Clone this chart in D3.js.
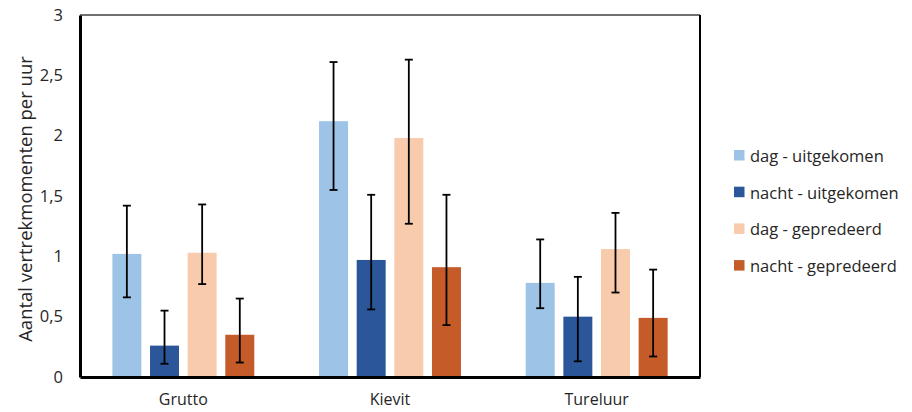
<!DOCTYPE html>
<html>
<head>
<meta charset="utf-8">
<script src="https://cdn.jsdelivr.net/npm/d3@7"></script>
<style>
  html, body { margin: 0; padding: 0; background: #fff; }
  svg { display: block; }
  text { font-family: "Open Sans", "Noto Sans", sans-serif; fill: #262626; }
</style>
</head>
<body>
<svg id="chart" width="912" height="412"></svg>
<script>
// Departure moments per hour, by species, time of day and nest outcome
const categories = ["Grutto", "Kievit", "Tureluur"];
const seriesNames = ["dag - uitgekomen", "nacht - uitgekomen", "dag - gepredeerd", "nacht - gepredeerd"];
const seriesColors = ["#9DC3E6", "#2B5699", "#F8CBAD", "#C55B28"];

// mean per series, one value per category
const dagUitgekomen   = [1.02, 2.12, 0.78];
const nachtUitgekomen = [0.26, 0.97, 0.50];
const dagGepredeerd   = [1.03, 1.98, 1.06];
const nachtGepredeerd = [0.35, 0.91, 0.49];

// lower / upper ends of the error bars
const dagUitgekomenLow    = [0.66, 1.55, 0.57];
const dagUitgekomenHigh   = [1.42, 2.61, 1.14];
const nachtUitgekomenLow  = [0.11, 0.56, 0.13];
const nachtUitgekomenHigh = [0.55, 1.51, 0.83];
const dagGepredeerdLow    = [0.77, 1.27, 0.70];
const dagGepredeerdHigh   = [1.43, 2.63, 1.36];
const nachtGepredeerdLow  = [0.12, 0.43, 0.17];
const nachtGepredeerdHigh = [0.65, 1.51, 0.89];

const yTicks = [0, 0.5, 1, 1.5, 2, 2.5, 3];
const yLabel = "Aantal vertrekmomenten per uur";

const values = [dagUitgekomen, nachtUitgekomen, dagGepredeerd, nachtGepredeerd];
const lows   = [dagUitgekomenLow, nachtUitgekomenLow, dagGepredeerdLow, nachtGepredeerdLow];
const highs  = [dagUitgekomenHigh, nachtUitgekomenHigh, dagGepredeerdHigh, nachtGepredeerdHigh];

const rows = [];
categories.forEach((c, ci) => {
  seriesNames.forEach((s, si) => {
    rows.push({ cat: c, series: s, value: values[si][ci], low: lows[si][ci], high: highs[si][ci], color: seriesColors[si] });
  });
});

const svg = d3.select("#chart");
const plot = { left: 80, right: 700, top: 15, bottom: 377 };

const x0 = d3.scaleBand().domain(categories).range([plot.left, plot.right]).padding(0);
const x1 = d3.scaleBand().domain(seriesNames).range([0, x0.bandwidth()])
  .paddingInner(0.23).paddingOuter(0.86);
const y = d3.scaleLinear().domain([0, 3]).range([plot.bottom, plot.top]);

const nl = d3.formatLocale({ decimal: ",", thousands: ".", grouping: [3], currency: ["€", ""] });
const fmt = nl.format(".1~f");

// bars
svg.append("g").selectAll("rect").data(rows).join("rect")
  .attr("x", d => x0(d.cat) + x1(d.series))
  .attr("y", d => y(d.value))
  .attr("width", x1.bandwidth())
  .attr("height", d => y(0) - y(d.value))
  .attr("fill", d => d.color);

// error bars
const eb = svg.append("g").attr("stroke", "#000").attr("stroke-width", 1.8);
rows.forEach(d => {
  const cx = x0(d.cat) + x1(d.series) + x1.bandwidth() / 2;
  eb.append("line").attr("x1", cx).attr("x2", cx).attr("y1", y(d.low)).attr("y2", y(d.high));
  eb.append("line").attr("x1", cx - 4).attr("x2", cx + 4).attr("y1", y(d.low)).attr("y2", y(d.low));
  eb.append("line").attr("x1", cx - 4).attr("x2", cx + 4).attr("y1", y(d.high)).attr("y2", y(d.high));
});

// frame: thin top/right, heavy left/bottom
svg.append("line").attr("x1", plot.left).attr("x2", plot.right).attr("y1", plot.top).attr("y2", plot.top)
  .attr("stroke", "#404040").attr("stroke-width", 1.3);
svg.append("line").attr("x1", plot.right).attr("x2", plot.right).attr("y1", plot.top).attr("y2", plot.bottom)
  .attr("stroke", "#000").attr("stroke-width", 2);

// y axis
const yAxis = svg.append("g").attr("transform", `translate(${plot.left},0)`)
  .call(d3.axisLeft(y).tickValues(yTicks).tickFormat(fmt).tickSize(0).tickPadding(17));
yAxis.select(".domain").attr("stroke", "#000").attr("stroke-width", 3);
yAxis.selectAll("text").attr("font-size", 16.5).attr("font-family", "Open Sans").attr("fill", "#262626");

// x axis
const xAxis = svg.append("g").attr("transform", `translate(0,${plot.bottom})`)
  .call(d3.axisBottom(x0).tickSize(0).tickPadding(17));
xAxis.select(".domain").attr("stroke", "#000").attr("stroke-width", 3);
xAxis.selectAll("text").attr("font-size", 16).attr("font-family", "Open Sans").attr("fill", "#262626");

// y axis title
svg.append("text")
  .attr("transform", "translate(24,199) rotate(-90)")
  .attr("text-anchor", "middle").attr("dominant-baseline", "central")
  .attr("font-size", 18.5)
  .text(yLabel);

// legend
const lg = svg.append("g").attr("transform", "translate(734,150)");
seriesNames.forEach((s, i) => {
  const g = lg.append("g").attr("transform", `translate(0,${i * 36.7})`);
  g.append("rect").attr("width", 10.5).attr("height", 10.5).attr("fill", seriesColors[i]);
  g.append("text").attr("x", 16).attr("y", 5.5).attr("dominant-baseline", "central")
    .attr("font-size", 16.5).text(s);
});
</script>
</body>
</html>
